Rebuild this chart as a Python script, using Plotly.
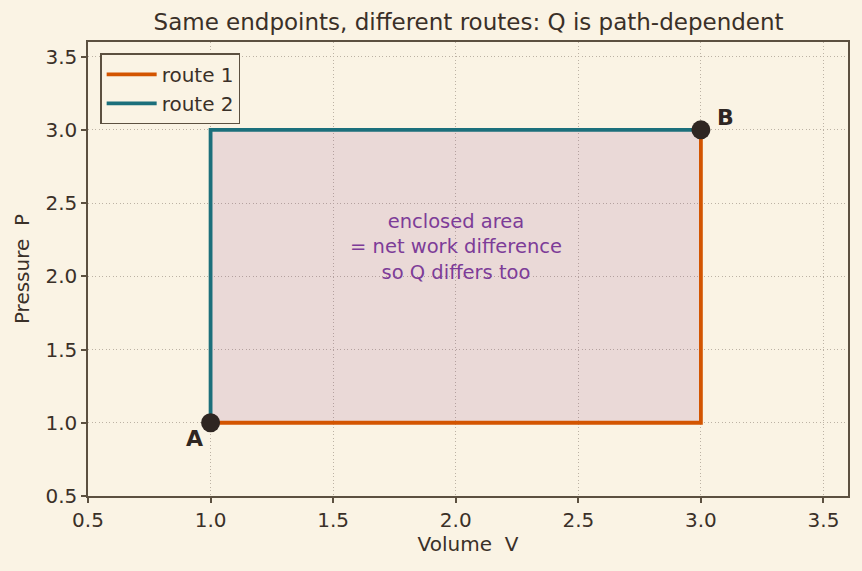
import plotly.graph_objects as go

route1_v = [1.0, 3.0, 3.0]
route1_p = [1.0, 1.0, 3.0]
route2_v = [1.0, 1.0, 3.0]
route2_p = [1.0, 3.0, 3.0]
area_v = [1.0, 3.0, 3.0, 1.0, 1.0]
area_p = [1.0, 1.0, 3.0, 3.0, 1.0]
pts_v = [1.0, 3.0]
pts_p = [1.0, 3.0]
pts_lbl = ["A", "B"]

ink = "#3a3028"
spine = "#5c5040"
bg = "#faf3e4"
grid = "#bcb2a4"

fig = go.Figure()
fig.add_trace(go.Scatter(x=area_v, y=area_p, fill="toself", mode="none",
                         fillcolor="rgba(128,50,130,0.13)", showlegend=False, hoverinfo="skip"))
fig.add_trace(go.Scatter(x=route1_v, y=route1_p, mode="lines", name="route 1",
                         line=dict(color="#d35400", width=3.8)))
fig.add_trace(go.Scatter(x=route2_v, y=route2_p, mode="lines", name="route 2",
                         line=dict(color="#1b6f7b", width=3.8)))
fig.add_trace(go.Scatter(x=pts_v, y=pts_p, mode="markers", showlegend=False,
                         marker=dict(size=19, color="#2f2622")))

fig.add_annotation(x=pts_v[0], y=pts_p[0], text="<b>" + pts_lbl[0] + "</b>", showarrow=False,
                   xanchor="right", yanchor="top", xshift=-6, yshift=-1,
                   font=dict(size=22, color="#2f2622"))
fig.add_annotation(x=pts_v[1], y=pts_p[1], text="<b>" + pts_lbl[1] + "</b>", showarrow=False,
                   xanchor="left", yanchor="bottom", xshift=14, yshift=-2,
                   font=dict(size=22, color="#2f2622"))
fig.add_annotation(x=2.0, y=2.2, text="enclosed area<br>= net work difference<br>so Q differs too",
                   showarrow=False, font=dict(size=19.5, color="#7d3c98"))

axis_common = dict(showline=True, linecolor=spine, linewidth=1.5, mirror=True,
                   ticks="outside", ticklen=5, tickcolor=spine, tickwidth=1.5,
                   showgrid=True, gridcolor=grid, griddash="1px,2.5px", gridwidth=1,
                   zeroline=False, tickfont=dict(size=20, color=ink),
                   tickformat=".1f", dtick=0.5, tick0=0.5)

fig.update_layout(
    width=862, height=571,
    paper_bgcolor=bg, plot_bgcolor=bg,
    margin=dict(l=88, r=12, t=42, b=75),
    font=dict(family="DejaVu Sans", color=ink),
    title=dict(text="Same endpoints, different routes: Q is path-dependent",
               x=0.5436, xanchor="center", y=0.962, yanchor="middle",
               font=dict(size=23, color=ink)),
    xaxis=dict(range=[0.5, 3.6], title=dict(text="Volume  V", font=dict(size=20, color=ink), standoff=6), **axis_common),
    yaxis=dict(range=[0.5, 3.6], title=dict(text="Pressure  P", font=dict(size=20, color=ink), standoff=10), **axis_common),
    legend=dict(x=0.016, y=0.975, xanchor="left", yanchor="top",
                bgcolor=bg, bordercolor=spine, borderwidth=1.5, itemwidth=50,
                font=dict(size=20, color=ink)),
)

fig.write_html("out.html")
